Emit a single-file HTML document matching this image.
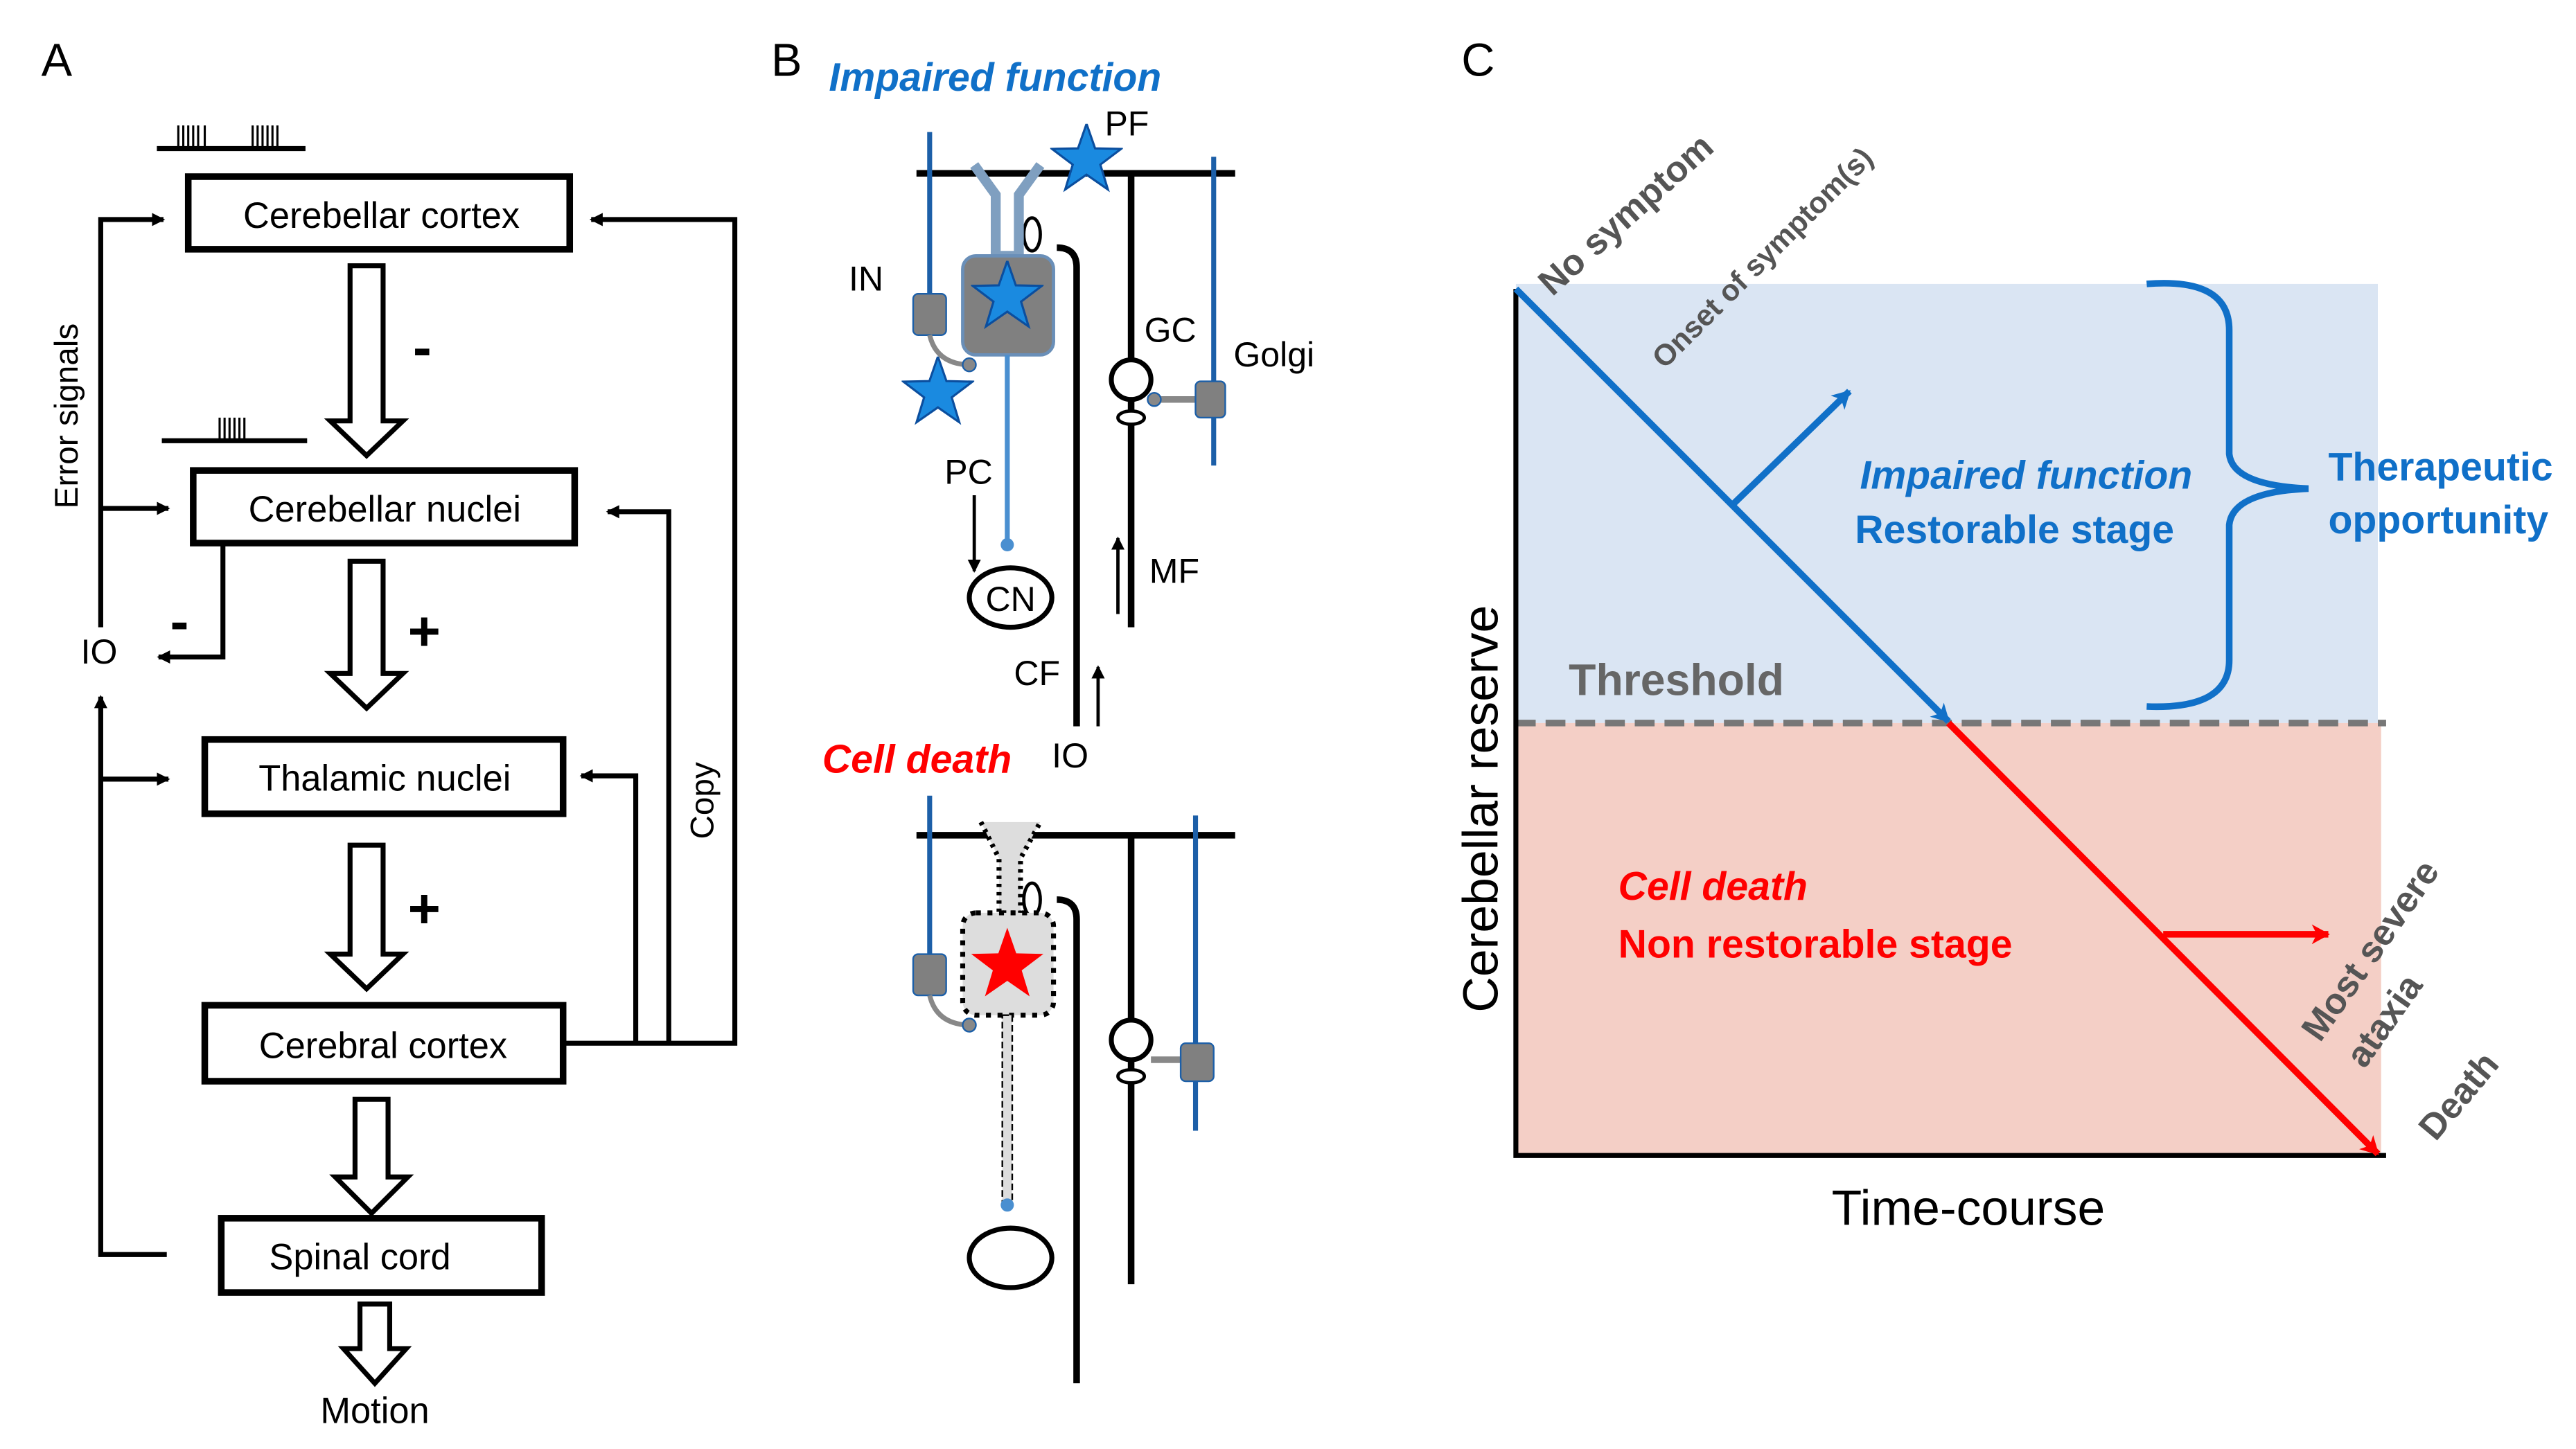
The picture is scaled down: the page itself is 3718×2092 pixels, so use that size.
<!DOCTYPE html>
<html><head><meta charset="utf-8"><style>html,body{margin:0;padding:0;background:#fff}svg{display:block}</style></head>
<body>
<svg xmlns="http://www.w3.org/2000/svg" width="3718" height="2092" viewBox="0 0 1560 877.8" preserveAspectRatio="none" font-family="Liberation Sans, sans-serif">
<defs>
<marker id="ak" markerWidth="8" markerHeight="8" refX="7" refY="4" orient="auto" markerUnits="userSpaceOnUse"><path d="M0,0 L8,4 L0,8 z" fill="#000"/></marker>
<marker id="ab" markerWidth="12" markerHeight="12" refX="10" refY="6" orient="auto" markerUnits="userSpaceOnUse"><path d="M0,0 L11,6 L0,12 L3,6 z" fill="#1070c8"/></marker>
<marker id="ar" markerWidth="12" markerHeight="12" refX="10" refY="6" orient="auto" markerUnits="userSpaceOnUse"><path d="M0,0 L11,6 L0,12 L3,6 z" fill="#f00"/></marker>
<symbol id="star" viewBox="-1 -1 2 2"><polygon points="0,-1 0.235,-0.324 0.951,-0.309 0.38,0.124 0.588,0.809 0,0.4 -0.588,0.809 -0.38,0.124 -0.951,-0.309 -0.235,-0.324"/></symbol>
</defs>
<!-- Panel A -->
<text x="25" y="46" font-size="28">A</text>
<g stroke="#000" stroke-width="3" fill="none">
<line x1="95" y1="90" x2="185" y2="90"/>
<line x1="98" y1="267" x2="186" y2="267"/>
</g>
<g stroke="#000" stroke-width="1.3">
<path d="M108 90V76M111 90V76M114 90V76M117 90V76M120 90V76M124 90V76M153 90V76M156 90V76M159 90V76M162 90V76M165 90V76M168 90V76"/>
<path d="M133 267V253M136 267V253M139 267V253M142 267V253M145 267V253M148 267V253"/>
</g>
<g stroke="#000" stroke-width="4" fill="#fff">
<rect x="114" y="107" width="231" height="44"/>
<rect x="117" y="285" width="231" height="44"/>
<rect x="124" y="448" width="217" height="45"/>
<rect x="124" y="609" width="217" height="46"/>
<rect x="134" y="738" width="194" height="45"/>
</g>
<g font-size="22" text-anchor="middle">
<text x="231" y="138">Cerebellar cortex</text>
<text x="233" y="316">Cerebellar nuclei</text>
<text x="233" y="479">Thalamic nuclei</text>
<text x="232" y="641">Cerebral cortex</text>
<text x="218" y="769">Spinal cord</text>
<text x="227" y="862">Motion</text>
</g>
<g stroke="#000" stroke-width="3" fill="#fff">
<path d="M212 161H232V255H244L222 276L200 255H212Z"/>
<path d="M212 340H232V408H244L222 429L200 408H212Z"/>
<path d="M212 512H232V578H244L222 599L200 578H212Z"/>
<path d="M215 666H235V713H247L225 735L203 713H215Z"/>
<path d="M218 790H236V817H246L227 838L208 817H218Z"/>
</g>
<g font-size="34" font-weight="bold"><text x="250" y="222">-</text><text x="247" y="394">+</text><text x="247" y="562">+</text><text x="103" y="388">-</text></g>
<g stroke="#000" stroke-width="3" fill="none">
<polyline points="61,380 61,133 99,133" marker-end="url(#ak)"/>
<line x1="61" y1="308" x2="102" y2="308" marker-end="url(#ak)"/>
<polyline points="135,330 135,398 96,398" marker-end="url(#ak)"/>
<polyline points="101,760 61,760 61,422" marker-end="url(#ak)"/>
<line x1="61" y1="472" x2="102" y2="472" marker-end="url(#ak)"/>
<polyline points="341,632 445,632 445,133 358,133" marker-end="url(#ak)"/>
<polyline points="405,632 405,310 368,310" marker-end="url(#ak)"/>
<polyline points="385,632 385,470 352,470" marker-end="url(#ak)"/>
</g>
<text x="47" y="252" font-size="20" text-anchor="middle" transform="rotate(-90 47 252)">Error signals</text>
<text x="60" y="402" font-size="21" text-anchor="middle">IO</text>
<text x="432" y="485" font-size="20" text-anchor="middle" transform="rotate(-90 432 485)">Copy</text>
<!-- Panel B -->
<text x="467" y="46" font-size="28">B</text>
<text x="502" y="55" font-size="24" font-weight="bold" font-style="italic" fill="#1070c8">Impaired function</text>
<g stroke="#000" fill="none">
<line x1="555" y1="105" x2="748" y2="105" stroke-width="4"/>
<line x1="685" y1="105" x2="685" y2="380" stroke-width="4"/>
<path d="M640 150 Q652 150 652 162 V440" stroke-width="4"/>
<ellipse cx="625" cy="142" rx="5" ry="10" stroke-width="2" fill="#fff"/>
<circle cx="685" cy="230" r="12" stroke-width="3" fill="#fff"/>
<ellipse cx="685" cy="253" rx="8" ry="4" stroke-width="2" fill="#fff"/>
</g>
<line x1="563" y1="80" x2="563" y2="180" stroke="#1c5fa8" stroke-width="3"/>
<line x1="735" y1="95" x2="735" y2="282" stroke="#1c5fa8" stroke-width="3"/>
<line x1="697" y1="242" x2="724" y2="242" stroke="#888" stroke-width="4"/>
<circle cx="699" cy="242" r="4" fill="#888" stroke="#1c5fa8"/>
<rect x="724" y="231" width="18" height="22" rx="3" fill="#808080" stroke="#1c5fa8"/>
<rect x="553" y="178" width="20" height="25" rx="3" fill="#808080" stroke="#1c5fa8"/>
<path d="M563 203 Q567 220 586 221" stroke="#888" stroke-width="3" fill="none"/>
<circle cx="587" cy="221" r="4" fill="#888" stroke="#1c5fa8"/>
<path d="M590 100 L603 118 V155 H617 V118 L630 100" stroke="#7f9fc0" stroke-width="6" fill="none"/>
<rect x="583" y="155" width="55" height="60" rx="8" fill="#808080" stroke="#6a8fb8" stroke-width="2"/>
<line x1="610" y1="215" x2="610" y2="330" stroke="#4a8fd0" stroke-width="3"/>
<circle cx="610" cy="330" r="4" fill="#4a8fd0"/>
<use href="#star" x="588" y="158" width="44" height="44" fill="#1a8ae0" stroke="#0b4e9e" stroke-width="0.06"/>
<use href="#star" x="546" y="216" width="44" height="44" fill="#1a8ae0" stroke="#0b4e9e" stroke-width="0.06"/>
<use href="#star" x="636" y="75" width="44" height="44" fill="#1a8ae0" stroke="#0b4e9e" stroke-width="0.06"/>
<ellipse cx="612" cy="362" rx="25" ry="18" fill="#fff" stroke="#000" stroke-width="3"/>
<g font-size="21">
<text x="669" y="82">PF</text><text x="514" y="176">IN</text><text x="693" y="207">GC</text><text x="747" y="222">Golgi</text>
<text x="572" y="293">PC</text><text x="612" y="370" text-anchor="middle">CN</text><text x="696" y="353">MF</text>
<text x="614" y="415">CF</text><text x="637" y="465">IO</text>
</g>
<g stroke="#000" stroke-width="2" fill="none">
<line x1="590" y1="300" x2="590" y2="346" marker-end="url(#ak)"/>
<line x1="677" y1="372" x2="677" y2="326" marker-end="url(#ak)"/>
<line x1="665" y1="440" x2="665" y2="404" marker-end="url(#ak)"/>
</g>
<text x="498" y="468" font-size="24" font-weight="bold" font-style="italic" fill="#f00">Cell death</text>
<g stroke="#000" fill="none">
<line x1="555" y1="506" x2="748" y2="506" stroke-width="4"/>
<line x1="685" y1="506" x2="685" y2="778" stroke-width="4"/>
<path d="M640 545 Q652 545 652 557 V838" stroke-width="4"/>
<ellipse cx="625" cy="545" rx="5" ry="10" stroke-width="2" fill="#fff"/>
<circle cx="685" cy="630" r="12" stroke-width="3" fill="#fff"/>
<ellipse cx="685" cy="652" rx="8" ry="4" stroke-width="2" fill="#fff"/>
</g>
<line x1="563" y1="482" x2="563" y2="580" stroke="#1c5fa8" stroke-width="3"/>
<line x1="724" y1="494" x2="724" y2="685" stroke="#1c5fa8" stroke-width="3"/>
<line x1="697" y1="642" x2="716" y2="642" stroke="#888" stroke-width="4"/>
<rect x="715" y="632" width="20" height="23" rx="3" fill="#808080" stroke="#1c5fa8"/>
<rect x="553" y="578" width="20" height="25" rx="3" fill="#808080" stroke="#1c5fa8"/>
<path d="M563 603 Q567 620 586 621" stroke="#888" stroke-width="3" fill="none"/>
<circle cx="587" cy="621" r="4" fill="#888" stroke="#1c5fa8"/>
<path d="M594 498 L605 520 V553 H618 V520 L630 498" stroke="#000" stroke-width="3" stroke-dasharray="2 3" fill="#ddd"/>
<rect x="583" y="553" width="55" height="62" rx="8" fill="#ddd" stroke="#000" stroke-width="3" stroke-dasharray="3 4"/>
<rect x="607" y="615" width="6" height="115" fill="#ddd" stroke="#000" stroke-width="1" stroke-dasharray="4 2"/>
<circle cx="610" cy="730" r="4" fill="#4a8fd0"/>
<use href="#star" x="587" y="562" width="46" height="46" fill="#f00"/>
<ellipse cx="612" cy="762" rx="25" ry="18" fill="#fff" stroke="#000" stroke-width="3"/>
<!-- Panel C -->
<text x="885" y="46" font-size="28">C</text>
<rect x="918" y="172" width="522" height="266" fill="#dae5f3"/>
<rect x="918" y="438" width="524" height="262" fill="#f4cfc6"/>
<line x1="918" y1="438" x2="1445" y2="438" stroke="#777" stroke-width="4" stroke-dasharray="12 6"/>
<polyline points="918,175 918,700 1445,700" stroke="#000" stroke-width="3" fill="none"/>
<line x1="918" y1="175" x2="1180" y2="437" stroke="#1070c8" stroke-width="4" marker-end="url(#ab)"/>
<line x1="1180" y1="438" x2="1440" y2="699" stroke="#f00" stroke-width="4" marker-end="url(#ar)"/>
<line x1="1050" y1="305" x2="1120" y2="237" stroke="#1070c8" stroke-width="4" marker-end="url(#ab)"/>
<line x1="1310" y1="566" x2="1410" y2="566" stroke="#f00" stroke-width="4" marker-end="url(#ar)"/>
<path d="M1300 172 Q1350 168 1350 200 V275 Q1352 294 1398 296 Q1352 298 1350 318 V400 Q1350 430 1300 428" stroke="#1070c8" stroke-width="4" fill="none"/>
<g font-weight="bold">
<text x="940" y="180" font-size="22" fill="#555" transform="rotate(-42 940 180)">No symptom</text>
<text x="1008" y="224" font-size="18" fill="#555" transform="rotate(-45 1008 224)">Onset of symptom(s)</text>
<text x="1227" y="296" font-size="24" font-style="italic" fill="#1070c8" text-anchor="middle">Impaired function</text>
<text x="1220" y="329" font-size="24" fill="#1070c8" text-anchor="middle">Restorable stage</text>
<text x="1410" y="291" font-size="24" fill="#1070c8">Therapeutic</text>
<text x="1410" y="323" font-size="24" fill="#1070c8">opportunity</text>
<text x="950" y="421" font-size="27" fill="#666">Threshold</text>
<text x="980" y="545" font-size="24" font-style="italic" fill="#f00">Cell death</text>
<text x="980" y="580" font-size="24" fill="#f00">Non restorable stage</text>
<text x="1405" y="632" font-size="22" fill="#555" transform="rotate(-55 1405 632)">Most severe</text>
<text x="1432" y="648" font-size="22" fill="#555" transform="rotate(-55 1432 648)">ataxia</text>
<text x="1475" y="692" font-size="22" fill="#555" transform="rotate(-50 1475 692)">Death</text>
</g>
<text x="907" y="490" font-size="30" text-anchor="middle" transform="rotate(-90 907 490)">Cerebellar reserve</text>
<text x="1192" y="742" font-size="30" text-anchor="middle">Time-course</text>
</svg>
</body></html>
